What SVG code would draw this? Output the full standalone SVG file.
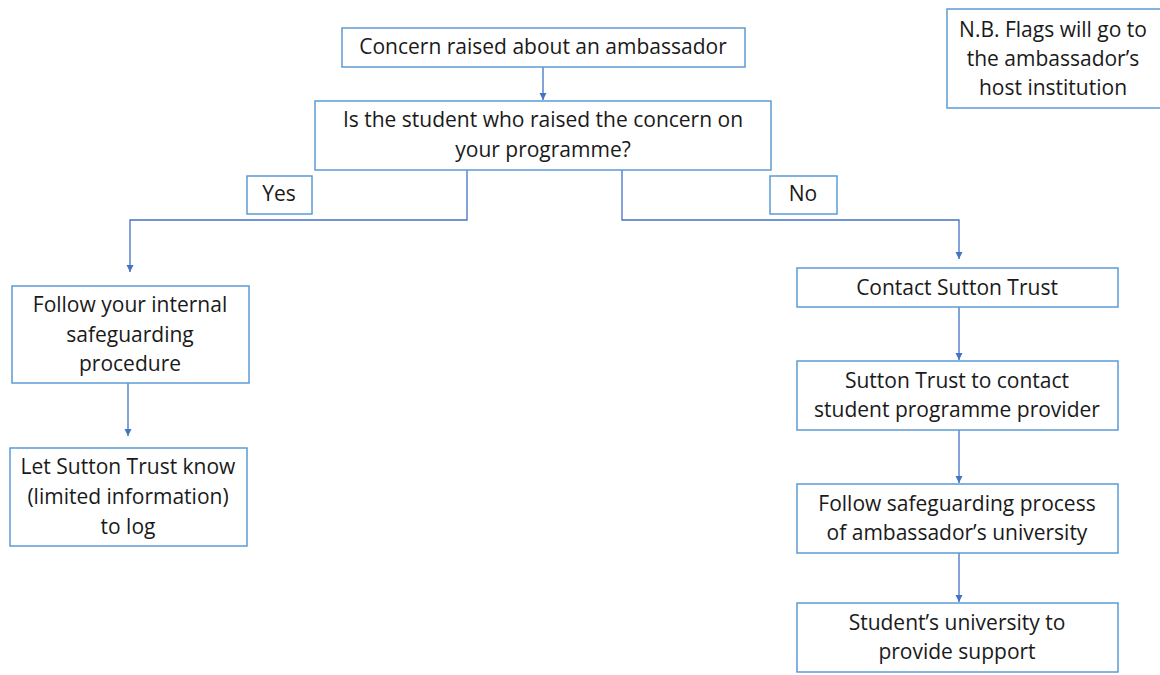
<svg xmlns="http://www.w3.org/2000/svg" width="1160" height="675" viewBox="0 0 1160 675">
<defs>
<style>
.box{fill:#fff;stroke:#5b9bd5;stroke-width:1.5}
.t{font-family:"Open Sans","Liberation Sans",sans-serif;font-size:21px;fill:#1a1a1a;text-anchor:middle}
.c{fill:none;stroke:#4472c4;stroke-width:1.3}
</style>
<marker id="ah" markerWidth="8" markerHeight="8" refX="7" refY="4" orient="auto" markerUnits="userSpaceOnUse">
<path d="M0,0.5 L7,4 L0,7.5 Z" fill="#4472c4"/>
</marker>
</defs>
<rect width="1160" height="675" fill="#fff"/>
<g id="connectors">
<line class="c" x1="543" y1="67" x2="543" y2="100" marker-end="url(#ah)"/>
<polyline class="c" points="467,170 467,220 130,220 130,272" marker-end="url(#ah)"/>
<polyline class="c" points="622,170 622,220 959,220 959,259" marker-end="url(#ah)"/>
<line class="c" x1="128" y1="383" x2="128" y2="436" marker-end="url(#ah)"/>
<line class="c" x1="959" y1="307" x2="959" y2="360" marker-end="url(#ah)"/>
<line class="c" x1="959" y1="430" x2="959" y2="483" marker-end="url(#ah)"/>
<line class="c" x1="959" y1="553" x2="959" y2="602" marker-end="url(#ah)"/>
</g>
<g id="n_concern"><rect class="box" x="342" y="28" width="403" height="39"/><text class="t" x="543" y="54">Concern raised about an ambassador</text></g>
<g id="n_question"><rect class="box" x="315" y="101" width="456" height="69"/><text class="t" x="543" y="127">Is the student who raised the concern on</text><text class="t" x="543" y="157">your programme?</text></g>
<g id="n_yes"><rect class="box" x="247" y="176" width="65" height="38"/><text class="t" x="279" y="201">Yes</text></g>
<g id="n_no"><rect class="box" x="770" y="176" width="67" height="38"/><text class="t" x="803" y="201">No</text></g>
<g id="n_nb"><rect class="box" x="947" y="9" width="220" height="99"/><text class="t" x="1053" y="37">N.B. Flags will go to</text><text class="t" x="1053" y="66">the ambassador’s</text><text class="t" x="1053" y="95">host institution</text></g>
<g id="n_internal"><rect class="box" x="12" y="286" width="237" height="97"/><text class="t" x="130" y="312">Follow your internal</text><text class="t" x="130" y="342">safeguarding</text><text class="t" x="130" y="371">procedure</text></g>
<g id="n_let"><rect class="box" x="10" y="448" width="237" height="98"/><text class="t" x="128" y="474">Let Sutton Trust know</text><text class="t" x="128" y="504">(limited information)</text><text class="t" x="128" y="534">to log</text></g>
<g id="n_contact"><rect class="box" x="797" y="268" width="321" height="39"/><text class="t" x="957" y="295">Contact Sutton Trust</text></g>
<g id="n_st"><rect class="box" x="797" y="361" width="321" height="69"/><text class="t" x="957" y="388">Sutton Trust to contact</text><text class="t" x="957" y="417">student programme provider</text></g>
<g id="n_follow"><rect class="box" x="797" y="484" width="321" height="69"/><text class="t" x="957" y="511">Follow safeguarding process</text><text class="t" x="957" y="540">of ambassador’s university</text></g>
<g id="n_student"><rect class="box" x="797" y="603" width="321" height="69"/><text class="t" x="957" y="630">Student’s university to</text><text class="t" x="957" y="659">provide support</text></g>
</svg>
